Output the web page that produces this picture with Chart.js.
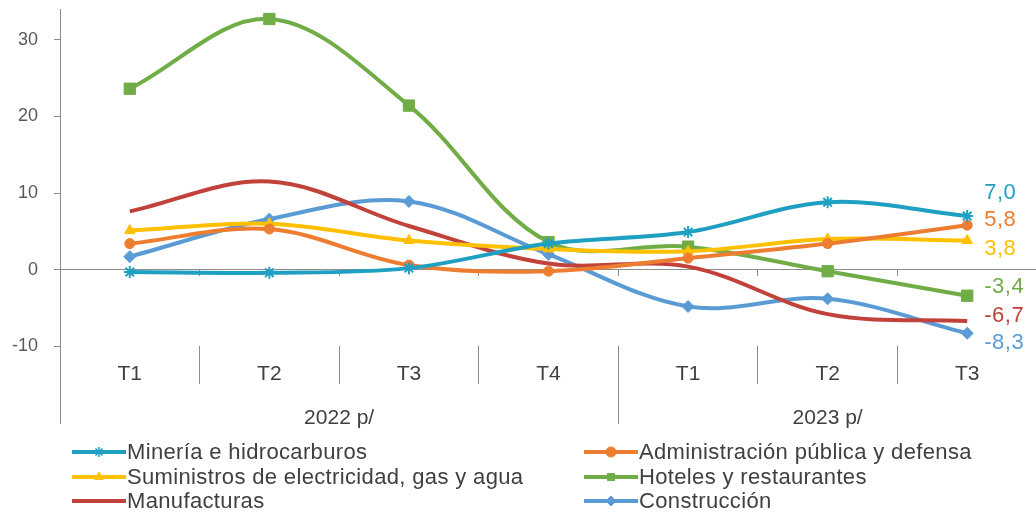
<!DOCTYPE html>
<html>
<head>
<meta charset="utf-8">
<script src="https://cdn.jsdelivr.net/npm/chart.js@4.4.0/dist/chart.umd.min.js"></script>
<style>
  html, body { margin: 0; padding: 0; background: #fff; overflow: hidden; width: 1036px; height: 512px; }
  #wrap { position: absolute; left: 0; top: 0; width: 1046px; height: 432px; }
  #legend { position: absolute; left: 0; top: 0; width: 1036px; height: 512px; pointer-events: none;
            font-family: "Liberation Sans", Arial, sans-serif; font-size: 22px; letter-spacing: 0.35px; color: #404040; }
  .item { position: absolute; display: flex; align-items: center; height: 24px; white-space: nowrap; }
  .item canvas { display: block; margin-right: 1px; }
</style>
</head>
<body>
<div id="wrap"><canvas id="chart"></canvas></div>
<div id="legend"></div>
<script>
// --- data ---
const quarters = ['T1', 'T2', 'T3', 'T4', 'T1', 'T2', 'T3'];
const years = ['2022 p/', '2023 p/'];
const quartersPerYear = [4, 3];

const mineria        = [-0.3, -0.4, 0.2, 3.4, 4.9, 8.8, 7.0];
const administracion = [3.4, 5.3, 0.6, -0.2, 1.5, 3.4, 5.8];
const suministros    = [5.1, 6.0, 3.8, 2.7, 2.4, 4.0, 3.8];
const hoteles        = [23.6, 32.7, 21.4, 3.6, 3.0, -0.2, -3.4];
const manufacturas   = [7.6, 11.5, 5.7, 0.8, 0.4, -5.8, -6.7];
const construccion   = [1.7, 6.6, 8.9, 2.0, -4.8, -3.8, -8.3];

const yTicks = [-10, 0, 10, 20, 30];

// end label vertical nudges (px) so they don't collide
const labelNudge = [-23, -5, 8, -9, -5, 10];

const GREY = '#8c8c8c';
const FONT = '"Liberation Sans", Arial, sans-serif';
Chart.defaults.font.family = FONT;

const series = [
  { label: 'Minería e hidrocarburos', data: mineria, color: '#1fa0c2', style: 'star', r: 6 },
  { label: 'Administración pública y defensa', data: administracion, color: '#ed7d31', style: 'circle', r: 5 },
  { label: 'Suministros de electricidad, gas y agua', data: suministros, color: '#ffc000', style: 'triangle', r: 6 },
  { label: 'Hoteles y restaurantes', data: hoteles, color: '#70ad47', style: 'rect', r: 8 },
  { label: 'Manufacturas', data: manufacturas, color: '#c0423b', style: 'circle', r: 0 },
  { label: 'Construcción', data: construccion, color: '#5b9bd5', style: 'rectRot', r: 6 }
];

// year group ticks on a linear axis that lines up with the category bands
const yearCenters = [], yearBounds = [];
let start = 0;
years.forEach((y, i) => {
  const n = quartersPerYear[i];
  yearCenters.push(start + (n - 1) / 2);
  start += n;
  if (i < years.length - 1) yearBounds.push(start - 0.5);
});

const endLabels = {
  id: 'endLabels',
  afterDatasetsDraw(chart) {
    const ctx = chart.ctx;
    ctx.save();
    ctx.font = '22px ' + FONT;
    ctx.letterSpacing = '0.5px';
    ctx.textBaseline = 'middle';
    ctx.textAlign = 'left';
    chart.data.datasets.forEach((ds, i) => {
      const meta = chart.getDatasetMeta(i);
      const pt = meta.data[meta.data.length - 1];
      const v = ds.data[ds.data.length - 1];
      ctx.fillStyle = ds.borderColor;
      ctx.fillText(v.toFixed(1).replace('.', ','), pt.x + 17, pt.y + labelNudge[i]);
    });
    ctx.restore();
  }
};

const noPad = (s) => { s.paddingTop = 0; s.paddingBottom = 0; s.paddingLeft = 0; s.paddingRight = 0; };

const chart = new Chart(document.getElementById('chart'), {
  type: 'line',
  data: {
    labels: quarters,
    datasets: series.map(s => ({
      label: s.label,
      data: s.data,
      borderColor: s.color,
      backgroundColor: s.color,
      borderWidth: 4,
      tension: 0.35,
      pointStyle: s.style,
      pointRadius: s.r,
      pointBorderWidth: s.style === 'star' ? 2 : 1,
      pointBorderColor: s.color,
      pointBackgroundColor: s.color,
      fill: false
    }))
  },
  options: {
    responsive: true,
    maintainAspectRatio: false,
    animation: false,
    layout: { padding: { top: 7, bottom: 5, left: 0, right: 0 } },
    plugins: { legend: { display: false }, tooltip: { enabled: false } },
    scales: {
      y: {
        min: -20, max: 34,
        afterBuildTicks: (s) => { s.ticks = yTicks.map(v => ({ value: v })); },
        afterFit: (s) => { s.width = 60; noPad(s); },
        grid: { drawOnChartArea: false, tickLength: 6, tickColor: GREY },
        border: { color: GREY, width: 1 },
        ticks: { padding: 16, color: '#595959', font: { size: 18 } }
      },
      x: {
        type: 'category',
        position: { y: 0 },
        offset: true,
        afterFit: noPad,
        grid: { offset: true, drawOnChartArea: false, tickLength: 6, tickColor: GREY },
        border: { color: GREY, width: 1 },
        ticks: { padding: 86, color: '#404040', font: { size: 21 }, autoSkip: false, maxRotation: 0 }
      },
      xSep: {
        type: 'category',
        position: { y: -10 },
        offset: true,
        afterFit: noPad,
        grid: { offset: true, drawOnChartArea: false, tickLength: 38, tickColor: GREY },
        border: { display: false },
        ticks: { display: false }
      },
      xYear: {
        type: 'linear',
        position: { y: -10 },
        min: -0.5, max: quarters.length - 0.5,
        afterBuildTicks: (s) => {
          s.ticks = yearCenters.concat(yearBounds).sort((a, b) => a - b).map(v => ({ value: v }));
        },
        afterFit: noPad,
        grid: {
          drawOnChartArea: false, tickLength: 78,
          tickColor: (c) => (c.tick && yearBounds.includes(c.tick.value)) ? GREY : 'rgba(0,0,0,0)'
        },
        border: { display: false },
        ticks: {
          padding: -19, color: '#404040', font: { size: 21 }, autoSkip: false, maxRotation: 0,
          callback: (v) => { const k = yearCenters.indexOf(v); return k >= 0 ? years[k] : ''; }
        }
      }
    }
  },
  plugins: [endLabels]
});

// --- html legend, two columns ---
const legend = document.getElementById('legend');
const colX = [72, 584];
const rowY = [452, 477, 501];
series.forEach((s, i) => {
  const item = document.createElement('div');
  item.className = 'item';
  item.style.left = colX[i % 2] + 'px';
  item.style.top = (rowY[Math.floor(i / 2)] - 12) + 'px';
  const c = document.createElement('canvas');
  c.width = 54; c.height = 16;
  const g = c.getContext('2d');
  g.strokeStyle = s.color; g.fillStyle = s.color;
  g.lineWidth = 4;
  g.beginPath(); g.moveTo(0, 8); g.lineTo(54, 8); g.stroke();
  if (s.r > 0 && Chart.helpers && Chart.helpers.drawPoint) {
    g.lineWidth = s.style === 'star' ? 1.5 : 1;
    Chart.helpers.drawPoint(g, { pointStyle: s.style, radius: 5, rotation: 0, borderWidth: g.lineWidth }, 27, 8);
  }
  item.appendChild(c);
  const t = document.createElement('span');
  t.textContent = s.label;
  item.appendChild(t);
  legend.appendChild(item);
});
</script>
</body>
</html>
